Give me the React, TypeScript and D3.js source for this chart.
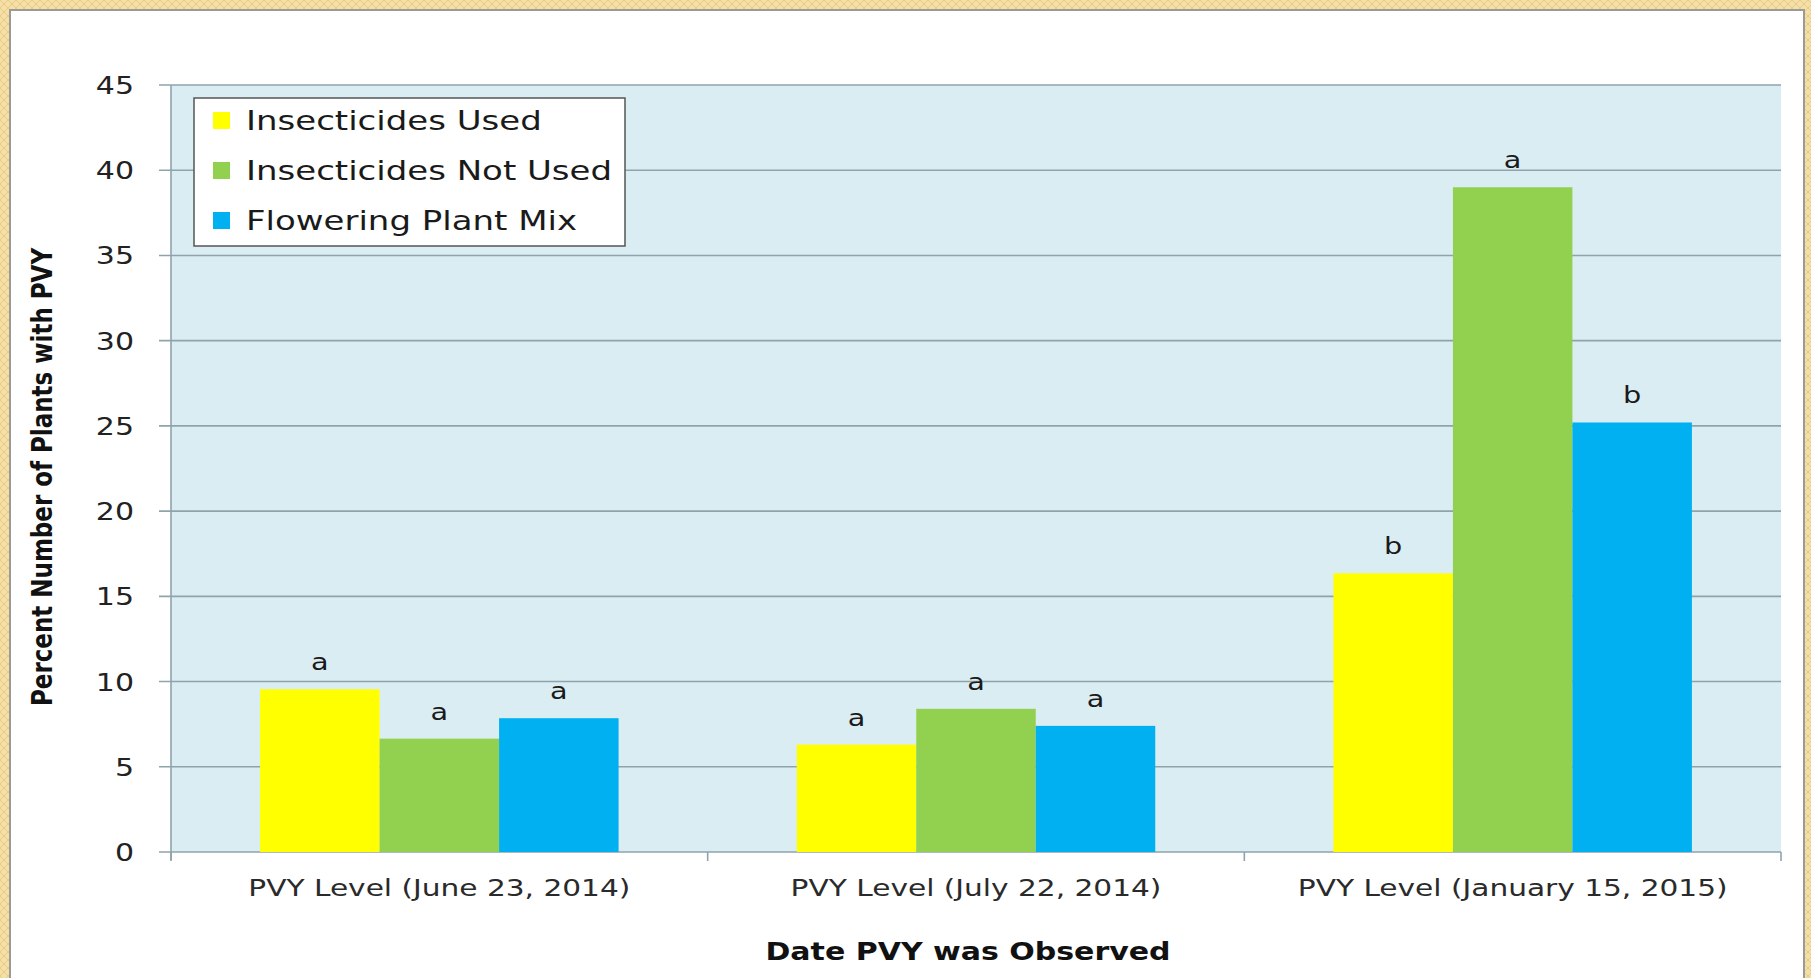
import React from "react";
import * as d3 from "d3";

const categories = [
  "PVY Level (June 23, 2014)",
  "PVY Level (July 22, 2014)",
  "PVY Level (January 15, 2015)",
];
const seriesNames = ["Insecticides Used", "Insecticides Not Used", "Flowering Plant Mix"];
const insecticidesUsed = [9.55, 6.3, 16.35];
const insecticidesNotUsed = [6.65, 8.4, 39.0];
const floweringPlantMix = [7.85, 7.4, 25.2];
const lettersUsed = ["a", "a", "b"];
const lettersNotUsed = ["a", "a", "a"];
const lettersFlowering = ["a", "a", "b"];
const yTicks = [0, 5, 10, 15, 20, 25, 30, 35, 40, 45];
const colors = ["#FFFF00", "#92D050", "#00B0F0"];

const W = 1811;
const H = 978;
const SX = 1.25;
const FONT = "'DejaVu Sans', sans-serif";

export default function App() {
  const left = 171, right = 1781, top = 85, bottom = 852;
  const x0 = d3.scaleBand<string>().domain(categories).range([left, right]).paddingInner(0.332).paddingOuter(0.166);
  const x1 = d3.scaleBand<number>().domain([0, 1, 2]).range([0, x0.bandwidth()]);
  const y = d3.scaleLinear().domain([0, 45]).range([bottom, top]);
  const series = [insecticidesUsed, insecticidesNotUsed, floweringPlantMix];
  const letters = [lettersUsed, lettersNotUsed, lettersFlowering];
  const step = x0.step();
  const boundaries = [0, 1, 2, 3].map((i) => left + i * step);

  const T = (x: number, yy: number) => `translate(${x},${yy}) scale(${SX},1)`;

  return (
    <svg width={W} height={H} style={{ position: "absolute", left: 0, top: 0, display: "block" }}>
      <defs>
        <pattern id="beige" width="8" height="8" patternUnits="userSpaceOnUse">
          <rect width="8" height="8" fill="#F4DFA8" />
          <path d="M0,0 L8,8 M8,0 L0,8" stroke="#E9CB82" strokeWidth="1" />
        </pattern>
      </defs>
      <rect x={0} y={0} width={W} height={H} fill="url(#beige)" />
      <rect x={10} y={10} width={1794} height={H} fill="#FFFFFF" stroke="#9A9A9A" strokeWidth={2} />

      {/* plot area */}
      <rect x={left} y={top} width={right - left} height={bottom - top} fill="#DAEDF3" />
      {yTicks.map((t) => (
        <g key={t}>
          <line x1={left - 12} x2={right} y1={y(t)} y2={y(t)} stroke="#8FA3AB" strokeWidth={1.6} />
          <text transform={T(134, y(t) + 9)} textAnchor="end" fontFamily={FONT} fontSize={24} fill="#222">
            {t}
          </text>
        </g>
      ))}
      <line x1={left} x2={left} y1={top} y2={bottom + 8} stroke="#8FA3AB" strokeWidth={1.6} />
      {boundaries.map((b, i) => (
        <line key={i} x1={b} x2={b} y1={bottom} y2={bottom + 9} stroke="#8FA3AB" strokeWidth={1.6} />
      ))}

      {/* bars */}
      {categories.map((c, ci) => (
        <g key={c}>
          {series.map((s, si) => {
            const bx = (x0(c) as number) + (x1(si) as number);
            return (
              <g key={si}>
                <rect x={bx} y={y(s[ci])} width={x1.bandwidth()} height={bottom - y(s[ci])} fill={colors[si]} />
                <text
                  transform={T(bx + x1.bandwidth() / 2, y(s[ci]) - 19)}
                  textAnchor="middle"
                  fontFamily={FONT}
                  fontSize={23}
                  fill="#1a1a1a"
                >
                  {letters[si][ci]}
                </text>
              </g>
            );
          })}
          <text
            transform={T((x0(c) as number) + x0.bandwidth() / 2, 896)}
            textAnchor="middle"
            fontFamily={FONT}
            fontSize={23.7}
            fill="#2a2a2a"
          >
            {c}
          </text>
        </g>
      ))}

      {/* legend */}
      <rect x={194} y={98} width={431} height={148} fill="#FFFFFF" stroke="#555" strokeWidth={1.5} />
      {seriesNames.map((n, i) => (
        <g key={n}>
          <rect x={213} y={112 + i * 50} width={17} height={17} fill={colors[i]} />
          <text transform={T(246, 130 + i * 50)} fontFamily={FONT} fontSize={27.2} fill="#1a1a1a">
            {n}
          </text>
        </g>
      ))}

      {/* axis titles */}
      <text
        transform={`translate(52,477) scale(${SX},1) rotate(-90)`}
        textAnchor="middle"
        fontFamily={FONT}
        fontWeight="bold"
        fontSize={23}
        fill="#111"
      >
        Percent Number of Plants with PVY
      </text>
      <text transform={T(968, 960)} textAnchor="middle" fontFamily={FONT} fontWeight="bold" fontSize={24} fill="#111">
        Date PVY was Observed
      </text>
    </svg>
  );
}
